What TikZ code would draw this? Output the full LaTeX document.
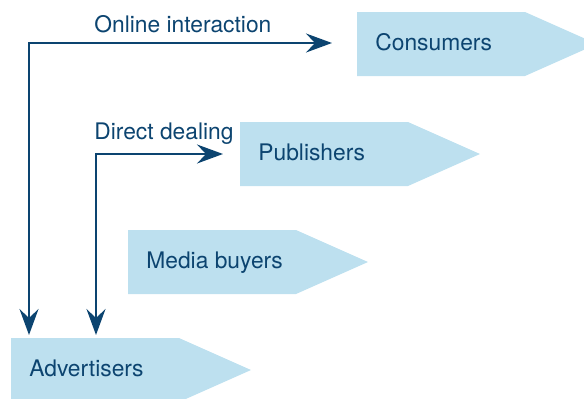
\documentclass[tikz,border=0pt]{standalone}
\usepackage{fontspec}
\setmainfont{TeX Gyre Heros}
\usetikzlibrary{arrows.meta,backgrounds}
\definecolor{tagfill}{RGB}{189,224,239}
\definecolor{ink}{RGB}{12,68,112}

\begin{document}
\begin{tikzpicture}[x=0.5pt, y=0.5pt,
    tag/.style={anchor=west, inner sep=0pt, text height=8.2pt, text depth=0pt,
      text=ink, font=\fontsize{11.4}{13}\selectfont},
    lbl/.style={anchor=base west, inner sep=0pt, text=ink, font=\fontsize{11.4}{13}\selectfont},
    link/.style={draw=ink, line width=1pt,
      {Stealth[length=13pt,width=9.5pt,inset=4.5pt]}-{Stealth[length=13pt,width=9.5pt,inset=4.5pt]}}]
  \useasboundingbox (0,0) rectangle (584,398);

  \node[tag] (cons)  at (375,356) {Consumers};
  \node[tag] (pub)   at (258,246) {Publishers};
  \node[tag] (media) at (146,138) {Media buyers};
  \node[tag] (adv)   at (29,30)   {Advertisers};

  % pennants behind the names
  \begin{scope}[on background layer]
    \foreach \n in {cons,pub,media,adv}
      \fill[tagfill] (\n.west) ++(-9pt,15pt) -- ++(84pt,0) -- ++(36pt,-16pt)
        -- ++(-36pt,-16pt) -- ++(-84pt,0) -- cycle;
  \end{scope}

  \draw[link] ([xshift=-21.5pt,yshift=-0.5pt]cons.west) -| ([yshift=16.5pt]adv.west);
  \draw[link] ([xshift=-17.5pt,yshift=-1pt]pub.west) -| ([xshift=33.5pt,yshift=16.5pt]adv.west);

  \node[lbl] (online) at (94,366) {Online interaction};
  \node[lbl] (direct) at (94,259) {Direct dealing};
\end{tikzpicture}
\end{document}
